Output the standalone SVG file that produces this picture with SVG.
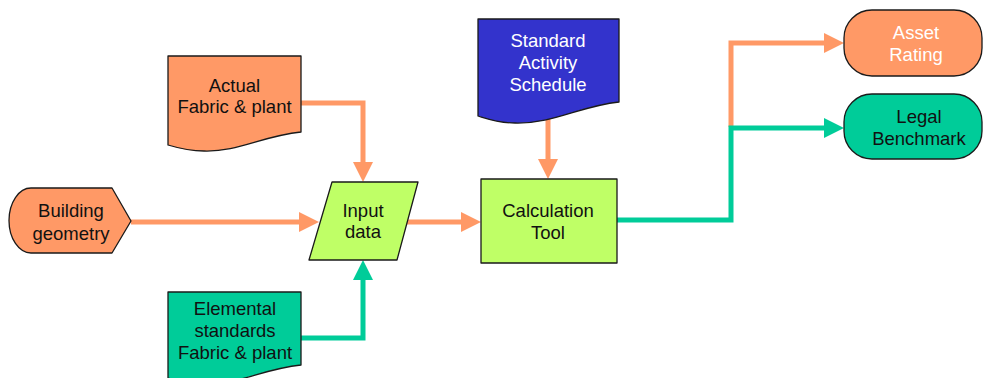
<svg xmlns="http://www.w3.org/2000/svg" width="983" height="378" viewBox="0 0 983 378">
<style>
.box{stroke:#1a1a1a;stroke-width:1.3;stroke-linejoin:round}
.or{fill:#FF9966}
.gr{fill:#00CC99}
.lime{fill:#BFFF66}
.blue{fill:#3333CC}
.t{font-family:"Liberation Sans",Arial,sans-serif;font-size:18.5px;text-anchor:middle;fill:#111}
.w{fill:#ffffff}
.c{fill:none;stroke-width:5}
.co{stroke:#FF9966}
.cg{stroke:#00CC99}
</style>
<defs>
<marker id="ao" markerUnits="userSpaceOnUse" markerWidth="22" markerHeight="22" viewBox="0 -11 22 22" refX="0" refY="0" orient="auto"><path d="M0,-10 L20,0 L0,10 Z" fill="#FF9966"/></marker>
<marker id="ag" markerUnits="userSpaceOnUse" markerWidth="22" markerHeight="22" viewBox="0 -11 22 22" refX="0" refY="0" orient="auto"><path d="M0,-10 L20,0 L0,10 Z" fill="#00CC99"/></marker>
</defs>
<g id="connectors">
<path class="c co" d="M301,103 H363 V162" marker-end="url(#ao)"/>
<path class="c co" d="M131,222 H299" marker-end="url(#ao)"/>
<path class="c cg" d="M301,338 H363 V280" marker-end="url(#ag)"/>
<path class="c co" d="M407,222 H461" marker-end="url(#ao)"/>
<path class="c co" d="M548,118 V159" marker-end="url(#ao)"/>
<path class="c co" d="M731,127 V43 H824" marker-end="url(#ao)"/>
<path class="c cg" d="M617,220 H731 V128 H824" marker-end="url(#ag)"/>
</g>
<g id="actual">
<path class="box or" d="M168,56 H301 V132 C262,136 238,152 204,151 C189,151 178,148 168,145 Z"/>
<text class="t" x="234.5" y="92">Actual</text>
<text class="t" x="234.5" y="113">Fabric &amp; plant</text>
</g>
<g id="building">
<path class="box or" d="M31,188 H112 L131,221 L112,253 H31 A22,32.5 0 0 1 31,188 Z"/>
<text class="t" x="71" y="217">Building</text>
<text class="t" x="71" y="240">geometry</text>
</g>
<g id="input">
<path class="box lime" d="M332,182 H418 L397,260 H309 Z"/>
<text class="t" x="363" y="217">Input</text>
<text class="t" x="363" y="238">data</text>
</g>
<g id="elemental">
<path class="box gr" d="M168,292 H301 V365 C262,369 238,385 204,384 C189,384 178,381 168,378 Z"/>
<text class="t" x="235" y="315">Elemental</text>
<text class="t" x="235" y="337">standards</text>
<text class="t" x="235" y="359">Fabric &amp; plant</text>
</g>
<g id="standard">
<path class="box blue" d="M478,19 H619 V102 C580,106 553,124 515,123 C499,123 488,119 478,116 Z"/>
<text class="t w" x="548" y="47">Standard</text>
<text class="t w" x="548" y="69">Activity</text>
<text class="t w" x="548" y="91">Schedule</text>
</g>
<g id="calc">
<rect class="box lime" x="481" y="179" width="136" height="84"/>
<text class="t" x="548" y="217">Calculation</text>
<text class="t" x="548" y="239">Tool</text>
</g>
<g id="asset">
<rect class="box or" x="844" y="10" width="138" height="66" rx="28" ry="28"/>
<text class="t w" x="916" y="39">Asset</text>
<text class="t w" x="916" y="61">Rating</text>
</g>
<g id="legal">
<rect class="box gr" x="844" y="94" width="138" height="65" rx="28" ry="28"/>
<text class="t" x="919" y="123">Legal</text>
<text class="t" x="919" y="145">Benchmark</text>
</g>
</svg>
